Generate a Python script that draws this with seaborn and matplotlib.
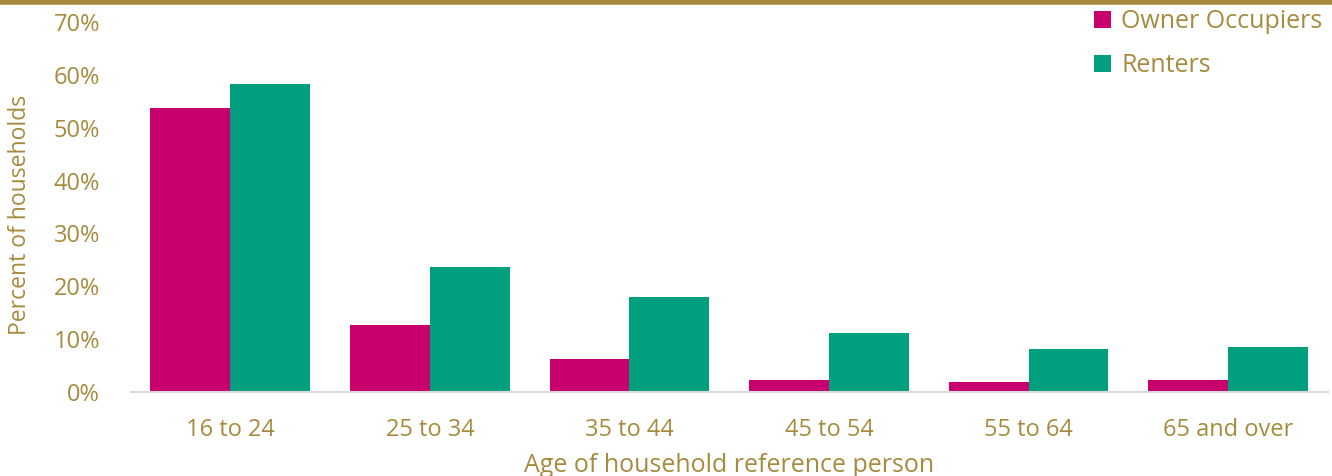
import matplotlib
matplotlib.use("Agg")
import matplotlib.pyplot as plt
import seaborn as sns
import pandas as pd
from matplotlib.patches import Patch
from matplotlib.lines import Line2D

categories = ["16 to 24", "25 to 34", "35 to 44", "45 to 54", "55 to 64", "65 and over"]
owner_occupiers = [53.8, 12.7, 6.2, 2.3, 1.8, 2.3]
renters = [58.3, 23.6, 18.0, 11.1, 8.2, 8.6]
series_names = ["Owner Occupiers", "Renters"]
y_ticks = [0, 10, 20, 30, 40, 50, 60, 70]

GOLD = "#A68B3E"
MAGENTA = "#C8006E"
GREEN = "#00A07E"

df = pd.DataFrame({
    "age": categories * 2,
    "series": [series_names[0]] * len(categories) + [series_names[1]] * len(categories),
    "value": owner_occupiers + renters,
})

sns.set_theme(style="white")
plt.rcParams["font.family"] = ["Open Sans", "DejaVu Sans"]

fig = plt.figure(figsize=(13.32, 4.76), dpi=100)
ax = fig.add_axes([0.098, 0.1765, 0.899, 0.777])

sns.barplot(data=df, x="age", y="value", hue="series", order=categories,
            hue_order=series_names, palette=[MAGENTA, GREEN], width=0.8,
            saturation=1, ax=ax, legend=False, edgecolor="none", linewidth=0)

ax.set_xlim(-0.5, len(categories) - 0.5)
ax.set_ylim(0, 70)
ax.set_yticks(y_ticks)
ax.set_yticklabels([f"{t}%" for t in y_ticks])
for s in ["top", "right", "left"]:
    ax.spines[s].set_visible(False)
ax.spines["bottom"].set_color("#D9D9D9")
ax.spines["bottom"].set_linewidth(1.5)
ax.tick_params(axis="y", length=0, pad=22, labelsize=17, labelcolor=GOLD)
ax.tick_params(axis="x", length=0, pad=19, labelsize=17, labelcolor=GOLD)
ax.set_xlabel("Age of household reference person", fontsize=18, color=GOLD, labelpad=8)
ax.set_ylabel("Percent of households", fontsize=16.5, color=GOLD)
ax.yaxis.set_label_coords(-0.082, 0.48)

handles = [Patch(facecolor=MAGENTA, edgecolor="none"), Patch(facecolor=GREEN, edgecolor="none")]
leg = ax.legend(handles, series_names, loc="upper right", bbox_to_anchor=(1.008, 1.075),
                frameon=False, fontsize=18, handlelength=0.7, handleheight=0.7,
                handletextpad=0.4, labelspacing=0.75, labelcolor=GOLD,
                borderaxespad=0.2)

fig.add_artist(Line2D([0, 1], [0.996, 0.996], transform=fig.transFigure,
                      color=GOLD, linewidth=4))

fig.savefig("out.png", dpi=100, facecolor="white")
